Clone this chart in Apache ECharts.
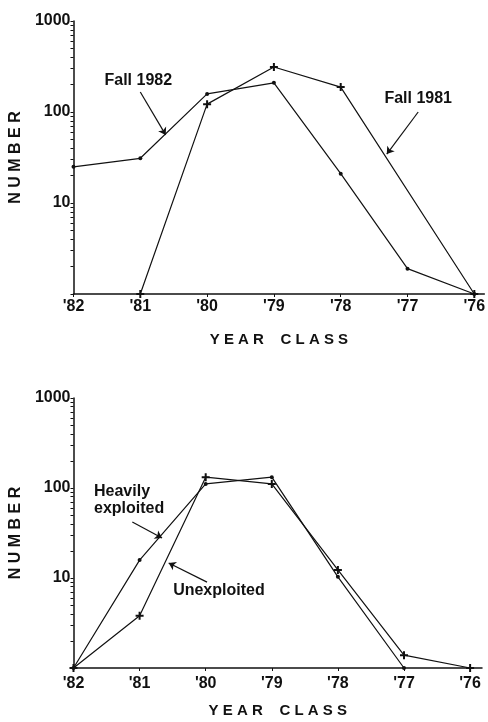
<!DOCTYPE html>
<html>
<head>
<meta charset="utf-8">
<script src="https://cdn.jsdelivr.net/npm/echarts@6/dist/echarts.min.js"></script>
<style>
html,body{margin:0;padding:0;background:#fff;}
#c{width:488px;height:722px;}
</style>
</head>
<body>
<div id="c"></div>
<script>
// ---- data ----
const yearClasses = ["'82", "'81", "'80", "'79", "'78", "'77", "'76"];
const fall1982 = [25, 31, 158, 209, 21, 1.9, 1];
const fall1981 = [null, 1, 122, 312, 188, null, 1];
const heavilyExploited = [1, 15.8, 111, 132, 10.3, 1, null];
const unexploited = [1, 3.8, 132, 111, 12.3, 1.39, 1];
const yTickLabels = [10, 100, 1000];

// ---- annotations (data coordinates) ----
const topNotes = [
  { text: 'Fall 1982', at: [0.97, 224], arrow: [[1.0, 166], [1.38, 56]] },
  { text: 'Fall 1981', at: [5.16, 142], arrow: [[5.16, 100], [4.69, 34.5]] }
];
const bottomNotes = [
  { text: 'Heavily\nexploited', at: [0.31, 73.6], align: 'left', arrow: [[0.89, 41.9], [1.34, 27.8]] },
  { text: 'Unexploited', at: [2.20, 7.2], arrow: [[2.02, 9.0], [1.44, 14.7]] }
];

const INK = '#111';
const FONT = 'Liberation Sans';
const pairs = arr => arr.map((v, i) => [i, v]);
const logMinor = [];
[1, 10, 100].forEach(d => { for (let k = 1; k < 10; k++) logMinor.push(d * k); });
logMinor.push(1000);
const catIdx = yearClasses.map((_, i) => i);

const plusPath = 'path://M3,0H5V3H8V5H5V8H3V5H0V3H3Z';

function xAxis(gridIndex, max, margin, gap) {
  return {
    type: 'value', gridIndex, min: 0, max,
    axisLine: { show: true, onZero: false, lineStyle: { color: INK, width: 1.5 } },
    axisTick: { show: true, customValues: catIdx, length: 3, lineStyle: { color: INK, width: 1 } },
    axisLabel: {
      customValues: catIdx, margin,
      formatter: v => yearClasses[Math.round(v)] || '',
      color: INK, fontFamily: FONT, fontWeight: 'bold', fontSize: 16
    },
    splitLine: { show: false },
    name: 'Y E A R    C L A S S', nameLocation: 'middle', nameGap: gap,
    nameTextStyle: { color: INK, fontFamily: FONT, fontWeight: 'bold', fontSize: 15 }
  };
}
function yAxis(gridIndex, gap) {
  return {
    type: 'log', logBase: 10, gridIndex, min: 1, max: 1000,
    axisLine: { show: true, lineStyle: { color: INK, width: 1.5 } },
    axisTick: { show: true, length: 3, customValues: logMinor, lineStyle: { color: INK, width: 1 } },
    axisLabel: {
      customValues: yTickLabels, margin: 3,
      formatter: v => String(Math.round(v)),
      color: INK, fontFamily: FONT, fontWeight: 'bold', fontSize: 16
    },
    splitLine: { show: false },
    name: 'N U M B E R', nameLocation: 'middle', nameRotate: 90, nameGap: gap,
    nameTextStyle: { color: INK, fontFamily: FONT, fontWeight: 'bold', fontSize: 16 }
  };
}
function lineSeries(name, arr, gi, sym, size, notes) {
  const s = {
    type: 'line', name, xAxisIndex: gi, yAxisIndex: gi,
    data: pairs(arr), connectNulls: true,
    symbol: sym, symbolSize: size, showSymbol: true,
    lineStyle: { color: INK, width: 1.2 },
    itemStyle: { color: INK, borderWidth: 0 },
    animation: false, silent: true
  };
  if (notes) {
    s.markLine = {
      silent: true, animation: false,
      symbol: ['none', 'arrow'], symbolSize: 7,
      lineStyle: { color: INK, width: 1.2, type: 'solid' },
      label: { show: false },
      data: notes.map(n => [{ coord: n.arrow[0] }, { coord: n.arrow[1] }])
    };
    s.markPoint = {
      silent: true, animation: false,
      symbol: 'circle', symbolSize: 1,
      itemStyle: { color: 'rgba(0,0,0,0)' },
      data: notes.map(n => ({
        coord: n.at, value: n.text,
        label: {
          show: true, position: 'inside', formatter: n.text,
          align: n.align || 'center', verticalAlign: 'middle',
          color: INK, fontFamily: FONT, fontWeight: 'bold', fontSize: 16, lineHeight: 17
        }
      }))
    };
  }
  return s;
}

const chart = echarts.init(document.getElementById('c'), null, { renderer: 'canvas' });
chart.setOption({
  backgroundColor: '#fff',
  animation: false,
  grid: [
    { left: 69, top: 21, width: 418, height: 273, containLabel: false },
    { left: 67, top: 398, width: 415, height: 270, containLabel: false }
  ],
  xAxis: [xAxis(0, 6.15, 5, 38), xAxis(1, 6.18, 8, 35)],
  yAxis: [yAxis(0, 45), yAxis(1, 47)],
  series: [
    lineSeries('Fall 1982', fall1982, 0, 'circle', 4, topNotes),
    lineSeries('Fall 1981', fall1981, 0, plusPath, 8, null),
    lineSeries('Heavily exploited', heavilyExploited, 1, 'circle', 4, bottomNotes),
    lineSeries('Unexploited', unexploited, 1, plusPath, 8, null)
  ]
});
</script>
</body>
</html>
